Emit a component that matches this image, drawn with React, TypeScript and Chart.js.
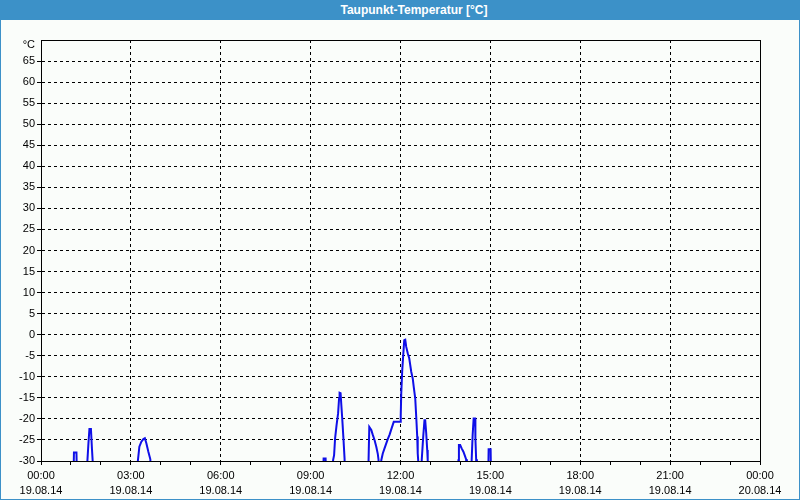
import { useEffect, useRef } from 'react';
import { Chart, registerables } from 'chart.js';

Chart.register(...registerables);

const TITLE = 'Taupunkt-Temperatur [°C]';
const Y_UNIT = '°C';
const X_MIN = 0;
const X_MAX = 1440;
const Y_MIN = -30;
const Y_MAX = 70;

// x tick labels every 3 hours (two lines each)
const tickTimes = ['00:00', '03:00', '06:00', '09:00', '12:00', '15:00', '18:00', '21:00', '00:00'];
const tickDates = ['19.08.14', '19.08.14', '19.08.14', '19.08.14', '19.08.14', '19.08.14', '19.08.14', '19.08.14', '20.08.14'];

// minutes since 19.08.14 00:00
const times = [
  64, 66, 71, 73,
  91, 93, 95, 97, 100, 102, 103.4, 105,
  192, 194, 197, 201, 205, 208, 211, 215, 219, 221,
  564, 566, 570, 572,
  583, 585, 587, 589, 592, 595, 597, 598, 600, 601.5, 603.5, 605.5, 608, 610,
  654, 656, 657.5, 661.5, 664.5, 668, 671.5, 674.5, 676, 678,
  679.5, 681.5, 684.5, 688, 691.5, 694.5, 698, 702, 706.5, 719.5, 720.5, 721.5, 723.5, 725.5, 727.5, 729.5,
  731.5, 734.5, 737.5, 739.5, 741.5, 744.5, 746.5, 749.5, 751.5, 753.5, 754.5, 755.5, 757,
  760.5, 762.5, 765.5, 768, 769.5, 771.5, 773.5, 774.5, 776,
  834, 836, 837, 839.5, 842.5, 846, 848.5, 851.5, 853,
  861, 862.5, 864.5, 866.5, 869.5, 870, 871.5, 873,
  895, 896.5, 900.5, 902,
];

// dew point °C (values below -30 lie off the scale)
const dewPoint = [
  -40, -28, -28, -40,
  -40, -29.8, -25.8, -22.4, -22.4, -27, -29.8, -40,
  -40, -30, -26.6, -25.4, -24.8, -24.6, -25.8, -27.8, -29.6, -40,
  -40, -29.4, -29.4, -40,
  -40, -29.8, -28.6, -24.6, -21.4, -18.7, -15.1, -13.8, -13.9, -16.7, -20.3, -24.2, -29.5, -40,
  -40, -30, -21.9, -22.6, -23.8, -25, -26.6, -28.3, -29.7, -40,
  -40, -29.8, -28.2, -27, -25.8, -24.8, -23.8, -22.3, -20.7, -20.7, -19.1, -13.9, -8.4, -4.8, -1.3, -1.2,
  -2.9, -4.4, -5.6, -7.2, -8.8, -10.4, -12.4, -15.1, -19.5, -24.2, -28.2, -30, -40,
  -40, -29.8, -24.2, -20.3, -20.3, -23.4, -27.4, -29.8, -40,
  -40, -29.8, -26.2, -26.2, -27, -27.8, -28.6, -29.6, -40,
  -40, -29.8, -23.8, -19.9, -19.9, -24.6, -29.6, -40,
  -40, -27.2, -27.2, -40,
];

const FONT = '"Liberation Sans", Arial, sans-serif';
const BAR_BLUE = '#3c91c8';
const BG = '#fafdfa';
const LINE_BLUE = '#0f0fe8';

const framePlugin = {
  id: 'frame',
  afterDatasetsDraw(chart: any) {
    const { ctx, chartArea: a } = chart;
    ctx.save();
    ctx.strokeStyle = '#000';
    ctx.lineWidth = 1;
    ctx.setLineDash([]);
    const l = Math.round(a.left) + 0.5;
    const t = Math.round(a.top) + 0.5;
    ctx.strokeRect(l, t, Math.round(a.right) - Math.round(a.left), Math.round(a.bottom) - Math.round(a.top));
    ctx.fillStyle = '#000';
    ctx.font = '11px ' + FONT;
    ctx.textAlign = 'right';
    ctx.textBaseline = 'middle';
    ctx.fillText(Y_UNIT, a.left - 6, a.top + 5);
    ctx.restore();
  },
};

export default function App() {
  const ref = useRef<HTMLCanvasElement | null>(null);

  useEffect(() => {
    document.body.style.margin = '0';
    const canvas = ref.current;
    if (!canvas) return;
    const data = times.map((t, i) => ({ x: t, y: dewPoint[i] }));
    const chart = new Chart(canvas, {
      type: 'line',
      data: {
        datasets: [
          {
            data,
            borderColor: LINE_BLUE,
            borderWidth: 2,
            pointRadius: 0,
            tension: 0,
            fill: false,
            clip: 0,
          } as any,
        ],
      },
      options: {
        animation: false,
        responsive: false,
        devicePixelRatio: 1,
        layout: { padding: { left: 0, right: 39, top: 20, bottom: 0 } },
        plugins: { legend: { display: false }, tooltip: { enabled: false }, title: { display: false } },
        scales: {
          x: {
            type: 'linear',
            min: X_MIN,
            max: X_MAX,
            afterFit: (s: any) => { s.height = 38; },
            ticks: {
              stepSize: 60,
              autoSkip: false,
              maxRotation: 0,
              minRotation: 0,
              padding: 3,
              color: '#000',
              font: { family: FONT, size: 11, lineHeight: '15px' } as any,
              callback: (v: any) => {
                const n = Math.round(Number(v));
                if (n % 180 !== 0) return '';
                const i = n / 180;
                return [tickTimes[i], tickDates[i]];
              },
            },
            grid: {
              color: (c: any) => (c.tick && Math.round(c.tick.value) % 180 === 0 ? '#000' : 'rgba(0,0,0,0)'),
              tickColor: '#000',
              tickLength: 4,
              lineWidth: 1,
            },
            border: { display: true, color: '#000', dash: [3, 3] },
          },
          y: {
            min: Y_MIN,
            max: Y_MAX,
            afterFit: (s: any) => { s.width = 40; },
            ticks: {
              stepSize: 5,
              padding: 2,
              color: '#000',
              font: { family: FONT, size: 11 },
              callback: (v: any) => (Number(v) === Y_MAX ? '' : String(v)),
            },
            grid: {
              color: (c: any) => (c.tick && c.tick.value === Y_MAX ? 'rgba(0,0,0,0)' : '#000'),
              tickColor: (c: any) => (c.tick && c.tick.value === Y_MAX ? 'rgba(0,0,0,0)' : '#000'),
              tickLength: 4,
              lineWidth: 1,
            },
            border: { display: true, color: '#000', dash: [3, 3] },
          },
        },
      } as any,
      plugins: [framePlugin],
    });
    return () => chart.destroy();
  }, []);

  return (
    <div style={{ position: 'relative', width: 800, height: 500, background: BAR_BLUE, overflow: 'hidden' }}>
      <div
        style={{
          position: 'absolute',
          left: 0,
          top: 0,
          width: 800,
          height: 20,
          lineHeight: '20px',
          boxSizing: 'border-box',
          paddingLeft: 28,
          textAlign: 'center',
          color: '#fff',
          fontFamily: FONT,
          fontSize: 12,
          fontWeight: 'bold',
        }}
      >
        {TITLE}
      </div>
      <canvas
        ref={ref}
        width={798}
        height={479}
        style={{ position: 'absolute', left: 1, top: 20, width: 798, height: 479, background: BG }}
      />
    </div>
  );
}
